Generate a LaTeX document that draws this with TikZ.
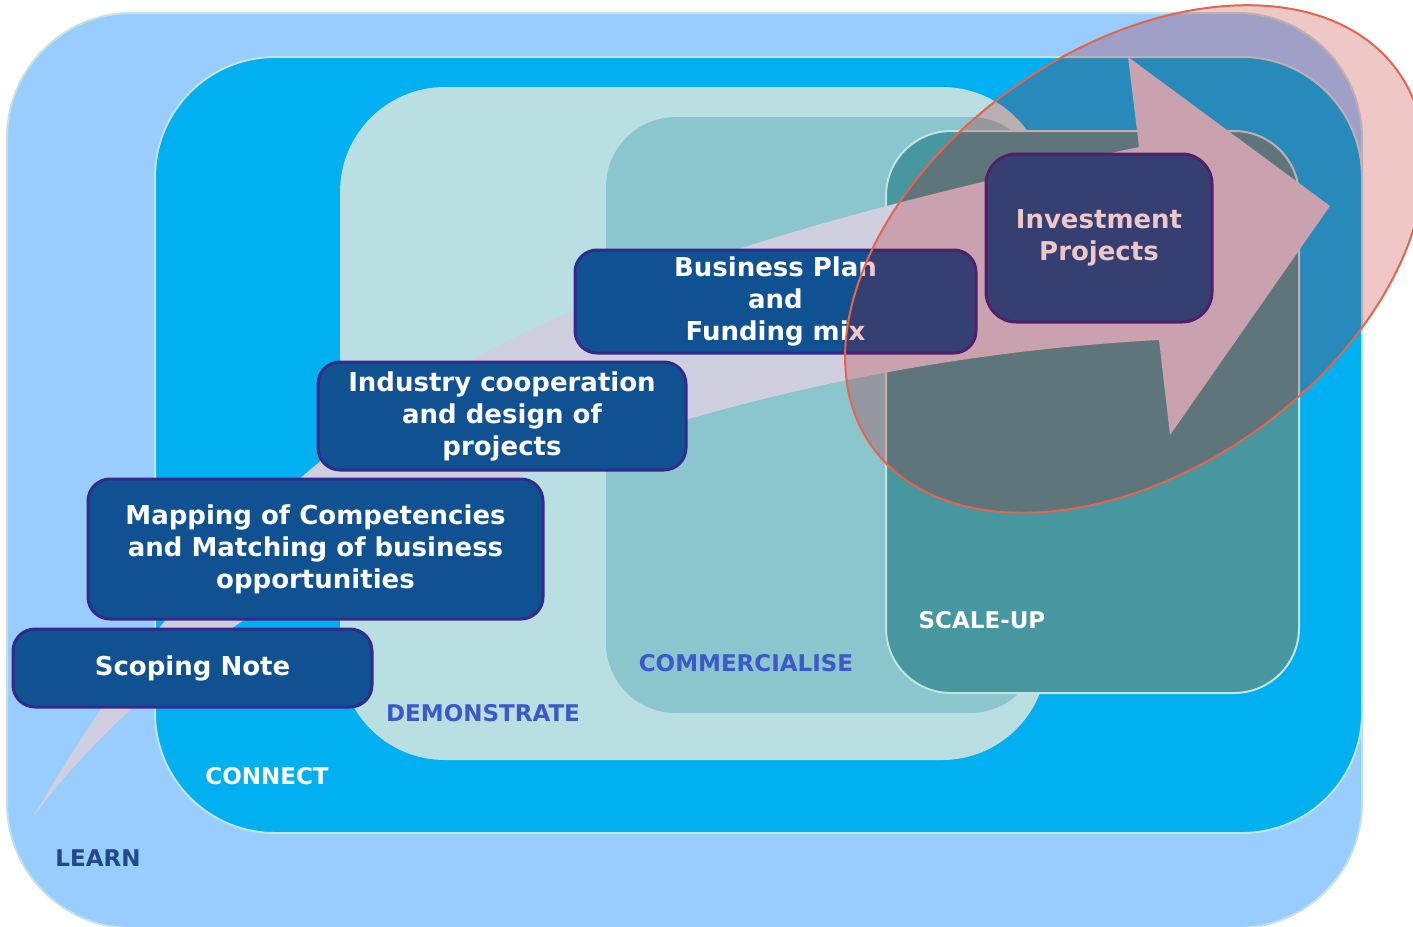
\documentclass[tikz,border=0pt]{standalone}
\usepackage{fontspec}
\setmainfont{DejaVu Sans}
\usetikzlibrary{calc}
\definecolor{learnblue}{RGB}{153,204,255}
\definecolor{connectblue}{RGB}{0,176,240}
\definecolor{demoteal}{RGB}{185,223,227}
\definecolor{commteal}{RGB}{139,197,205}
\definecolor{scaleteal}{RGB}{70,151,159}
\definecolor{paleedge}{RGB}{192,228,222}
\definecolor{boxblue}{RGB}{16,82,145}
\definecolor{boxedge}{RGB}{52,42,140}
\definecolor{arrowlav}{RGB}{207,207,224}
\definecolor{ringred}{RGB}{185,0,0}
\definecolor{ringedge}{RGB}{228,100,78}
\definecolor{labelnavy}{RGB}{31,73,135}
\definecolor{labelblue}{RGB}{59,89,200}
\tikzset{
	stagebox/.style={draw=boxedge, line width=3, fill=boxblue, rounded corners=22, text=white, align=center, inner sep=0, font=\fontsize{26}{32}\selectfont\bfseries},
	stagelabel/.style={inner sep=0, font=\fontsize{23}{27}\selectfont\bfseries},
}

\begin{document}
\begin{tikzpicture}[x=1pt, y=-1pt]
			%%%%% START %%%%%
			
			\useasboundingbox (0,0) rectangle (1413,926);
			\clip (0,0) rectangle (1413,926);
			\fill[white] (0,0) rectangle (1413,926);
			
			\draw[fill=learnblue, draw=paleedge, line width=2, rounded corners=125] (7,13) rectangle (1362,928);
			\draw[fill=connectblue, draw=paleedge, line width=2, rounded corners=120] (155,57) rectangle (1362,833);
			\fill[demoteal, rounded corners=105] (340,87) rectangle (1047,760);
			\fill[commteal, rounded corners=70] (606,117) rectangle (1040,713);
			\draw[fill=scaleteal, draw=paleedge, line width=2, rounded corners=65] (886,131) rectangle (1299,693);
			
			\fill[arrowlav] (33,817) .. controls (268,418) and (489,284) .. (1139,147) -- (1128,57) -- (1330,206) -- (1170,435) -- (1159,340) .. controls (780,360) and (430,485) .. (241,622) .. controls (170,670) and (90,740) .. cycle;
			
			\node[stagelabel, text=labelnavy] (learn) at (98,858) {LEARN};
			\node[stagelabel, text=white] (connect) at (267,776) {CONNECT};
			\node[stagelabel, text=labelblue] (demo) at (483,713) {DEMONSTRATE};
			\node[stagelabel, text=labelblue] (comm) at (746,663) {COMMERCIALISE};
			\node[stagelabel, text=white] (scaleup) at (982,620) {SCALE-UP};
			
			\node[stagebox, minimum width=359, minimum height=78] (scoping) at (192.5,668) {Scoping Note};
			\node[stagebox, minimum width=455, minimum height=140] (mapping) at (315.5,549) {Mapping of Competencies\\and Matching of business\\opportunities};
			\node[stagebox, minimum width=368, minimum height=108] (industry) at (502,416) {Industry cooperation\\and design of\\projects};
			\node[stagebox, minimum width=401, minimum height=103] (bizplan) at (775.5,301.5) {Business Plan\\and\\Funding mix};
			\node[stagebox, minimum width=226, minimum height=168, rounded corners=30] (invest) at (1099,238) {Investment\\Projects};
			
			\draw[ringedge, line width=2, fill=ringred, fill opacity=0.22, rotate around={35.5:(1135,259)}] (1135,259) ellipse [x radius=323, y radius=210];
			
			%%%%% END %%%%%
\end{tikzpicture}
\end{document}
